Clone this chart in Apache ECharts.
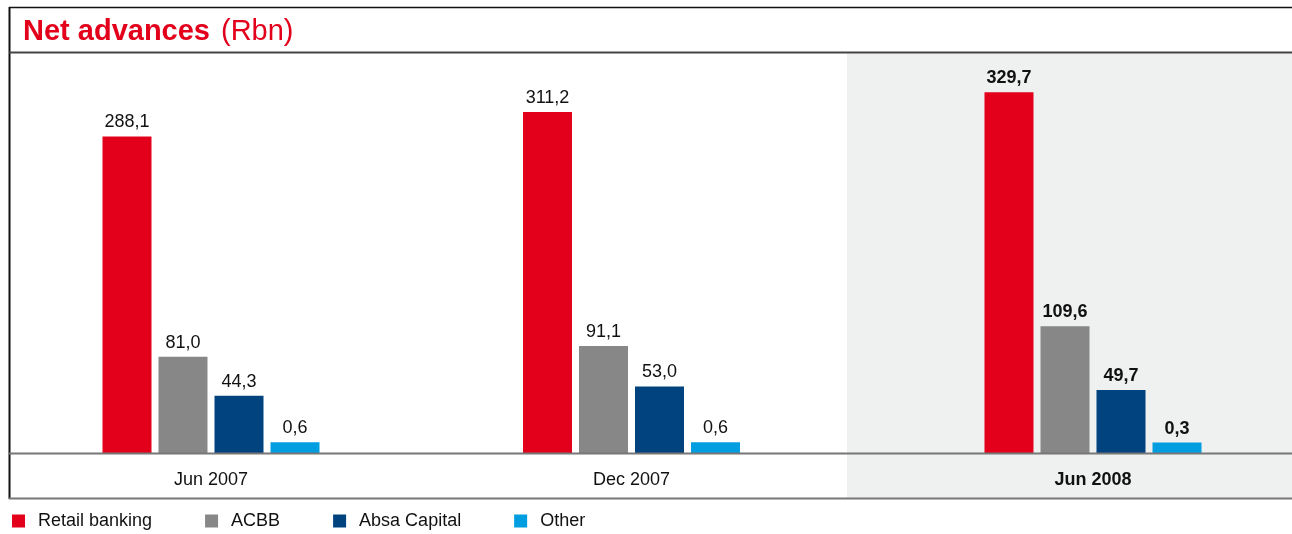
<!DOCTYPE html>
<html>
<head>
<meta charset="utf-8">
<script src="https://cdn.jsdelivr.net/npm/echarts@6/dist/echarts.min.js"></script>
<style>
  html, body { margin: 0; padding: 0; background: #fff; }
  #chart { width: 1292px; height: 534px; }
</style>
</head>
<body>
<div id="chart"></div>
<script>
// Net advances by business unit (Rbn)
const categories = ['Jun 2007', 'Dec 2007', 'Jun 2008'];
const seriesNames = ['Retail banking', 'ACBB', 'Absa Capital', 'Other'];
const retailBanking = [288.1, 311.2, 329.7];
const acbb = [81.0, 91.1, 109.6];
const absaCapital = [44.3, 53.0, 49.7];
const other = [0.6, 0.6, 0.3];

const seriesValues = [retailBanking, acbb, absaCapital, other];
const colors = ['#E3001B', '#878787', '#00437F', '#009EE0'];

// one grid per period so each group sits in its own column
const gridBoxes = [
  { left: 10, width: 402 },
  { left: 412, width: 439 },
  { left: 894, width: 398 }
];

const fmt = v => v.toFixed(1).replace('.', ',');

const grids = gridBoxes.map(b => ({ left: b.left, width: b.width, top: 60, bottom: 81 }));

const xAxes = categories.map((c, i) => ({
  type: 'category',
  gridIndex: i,
  data: [c],
  axisTick: { show: false },
  axisLine: { show: false, onZero: false },
  axisLabel: {
    fontSize: 18,
    fontFamily: 'Liberation Sans, Arial, sans-serif',
    fontWeight: i === 2 ? 'bold' : 'normal',
    color: '#111',
    margin: 18
  }
}));

const yAxes = categories.map((c, i) => ({
  type: 'value',
  gridIndex: i,
  min: -9.5,
  max: 360,
  startValue: -9.5,
  show: false
}));

const series = [];
categories.forEach((c, i) => {
  seriesNames.forEach((name, k) => {
    series.push({
      type: 'bar',
      name: name,
      xAxisIndex: i,
      yAxisIndex: i,
      data: [seriesValues[k][i]],
      barWidth: 49,
      barGap: '14.3%',
      itemStyle: { color: colors[k] },
      label: {
        show: true,
        position: 'top',
        distance: 5,
        fontSize: 18,
        fontFamily: 'Liberation Sans, Arial, sans-serif',
        fontWeight: i === 2 ? 'bold' : 'normal',
        color: '#111',
        formatter: p => fmt(p.value)
      }
    });
  });
});

const chart = echarts.init(document.getElementById('chart'), null, { renderer: 'canvas' });
chart.setOption({
  animation: false,
  color: colors,
  title: {
    text: '{b|Net advances}{r|(Rbn)}',
    left: 18,
    top: 12,
    textStyle: {
      rich: {
        b: { fontSize: 29, fontWeight: 'bold', color: '#E3001B', fontFamily: 'Liberation Sans, Arial, sans-serif' },
        r: { fontSize: 29, fontWeight: 'normal', color: '#E3001B', fontFamily: 'Liberation Sans, Arial, sans-serif', padding: [0, 0, 0, 11] }
      }
    }
  },
  legend: {
    data: seriesNames,
    left: 7,
    top: 507,
    icon: 'rect',
    itemWidth: 13,
    itemHeight: 13,
    itemGap: 53,
    textStyle: {
      fontSize: 18,
      fontFamily: 'Liberation Sans, Arial, sans-serif',
      color: '#111',
      padding: [0, 0, 0, 8]
    }
  },
  grid: grids,
  xAxis: xAxes,
  yAxis: yAxes,
  series: series,
  graphic: [
    { type: 'rect', z: -10, shape: { x: 847, y: 53, width: 445, height: 445 }, style: { fill: '#EFF0F0' } },
    { type: 'line', z: 10, shape: { x1: 9, y1: 7.5, x2: 1292, y2: 7.5 }, style: { stroke: '#111', lineWidth: 1.5 } },
    { type: 'line', z: 10, shape: { x1: 9.5, y1: 7, x2: 9.5, y2: 499 }, style: { stroke: '#111', lineWidth: 2 } },
    { type: 'line', z: 10, shape: { x1: 9, y1: 52.5, x2: 1292, y2: 52.5 }, style: { stroke: '#444', lineWidth: 2 } },
    // category baseline
    { type: 'line', z: 10, shape: { x1: 9, y1: 453.5, x2: 1292, y2: 453.5 }, style: { stroke: '#777', lineWidth: 2 } },
    { type: 'line', z: 10, shape: { x1: 9, y1: 498.5, x2: 1292, y2: 498.5 }, style: { stroke: '#777', lineWidth: 2 } }
  ]
});
</script>
</body>
</html>
